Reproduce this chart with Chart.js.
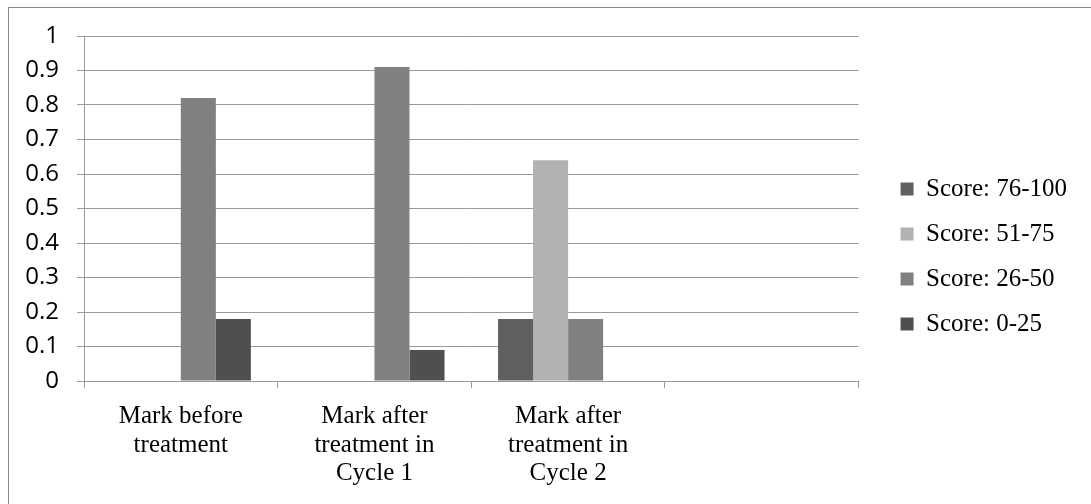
<!DOCTYPE html>
<html>
<head>
<meta charset="utf-8">
<script src="https://cdn.jsdelivr.net/npm/chart.js@4.4.0/dist/chart.umd.min.js"></script>
<style>
  body { margin: 0; background: #fff; overflow: hidden; }
  #wrap { position: relative; width: 1091px; height: 504px; overflow: hidden; }
  #frame { position: absolute; left: 8px; top: 7px; width: 1200px; height: 600px; border: 1px solid #8a8a8a; }
  #chart { position: absolute; left: 0; top: 0; }
</style>
</head>
<body>
<div id="wrap">
  <div id="frame"></div>
  <canvas id="chart" width="1091" height="504"></canvas>
</div>
<script>
// Data
const categories = [
    ['Mark before', 'treatment'],
    ['Mark after', 'treatment in', 'Cycle 1'],
    ['Mark after', 'treatment in', 'Cycle 2'],
    ''
];
const seriesNames = ['Score: 76-100', 'Score: 51-75', 'Score: 26-50', 'Score: 0-25'];
const score76to100 = [0, 0, 0.18, null];
const score51to75 = [0, 0, 0.64, null];
const score26to50 = [0.82, 0.91, 0.18, null];
const score0to25 = [0.18, 0.09, 0, null];
const yTickLabels = ['0', '0.1', '0.2', '0.3', '0.4', '0.5', '0.6', '0.7', '0.8', '0.9', '1'];

const seriesColors = ['#606060', '#b2b2b2', '#808080', '#4f4f4f'];
const seriesValues = [score76to100, score51to75, score26to50, score0to25];
const gridColor = '#9a9a9a';
const serifFont = '"Liberation Serif", "Times New Roman", serif';

Chart.defaults.color = '#000';

const ctx = document.getElementById('chart');

new Chart(ctx, {
    type: 'bar',
    data: {
        labels: categories,
        datasets: seriesNames.map((name, i) => ({
            label: name,
            data: seriesValues[i],
            backgroundColor: seriesColors[i],
            borderWidth: 0,
            categoryPercentage: 0.7235,
            barPercentage: 1
        }))
    },
    options: {
        responsive: false,
        animation: false,
        layout: {
            padding: { left: 8, top: 9, bottom: 0, right: 14 }
        },
        scales: {
            x: {
                grid: {
                    display: true,
                    drawOnChartArea: false,
                    drawTicks: true,
                    tickLength: 7,
                    color: gridColor
                },
                border: { display: true, color: gridColor },
                ticks: {
                    maxRotation: 0,
                    autoSkip: false,
                    padding: 14,
                    font: { family: serifFont, size: 25, lineHeight: 1.15 }
                },
                afterFit: s => { s.height = 123; }
            },
            y: {
                min: 0,
                max: 1,
                ticks: {
                    stepSize: 0.1,
                    padding: 18,
                    font: { family: '"Open Sans", sans-serif', size: 24 },
                    callback: (v, i) => yTickLabels[i]
                },
                grid: { color: gridColor, tickLength: 7 },
                border: { display: true, color: gridColor },
                afterFit: s => { s.width = 76; }
            },
            gap: {
                type: 'linear',
                axis: 'y',
                position: 'right',
                display: true,
                grid: { display: false },
                border: { display: false },
                ticks: { display: false },
                afterFit: s => { s.width = 22; }
            }
        },
        plugins: {
            // empty title only keeps the plot top clear of the legend offset
            title: {
                display: true,
                text: ' ',
                padding: { top: 10, bottom: 10 },
                font: { size: 7, lineHeight: 1 }
            },
            legend: {
                position: 'right',
                maxWidth: 300,
                labels: {
                    boxWidth: 13,
                    boxHeight: 13,
                    padding: 20,
                    color: '#000',
                    font: { family: serifFont, size: 25 }
                }
            },
            tooltip: { enabled: false }
        }
    }
});
</script>
</body>
</html>
